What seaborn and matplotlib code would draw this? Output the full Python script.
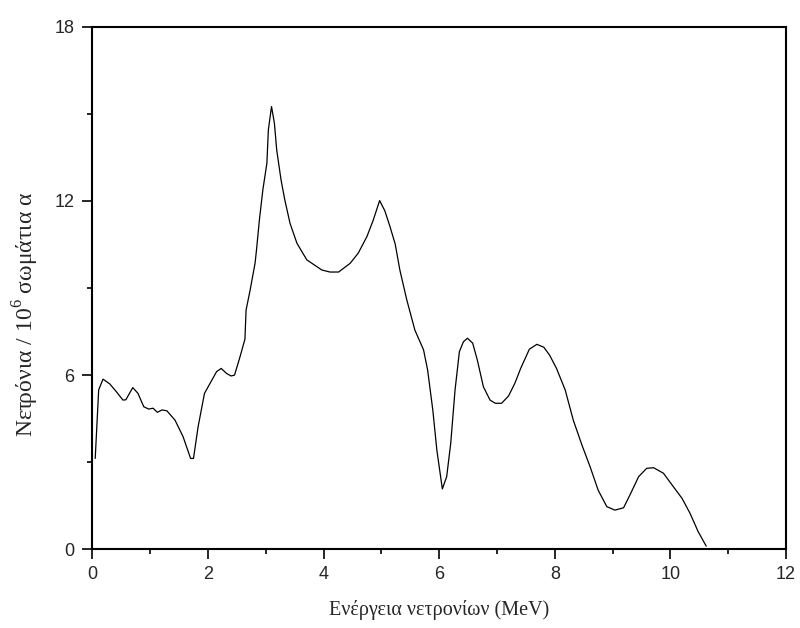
import matplotlib
matplotlib.use("Agg")
import matplotlib.pyplot as plt
import seaborn as sns
import pandas as pd
from matplotlib.ticker import MultipleLocator

energy = [0.05, 0.11, 0.185, 0.30, 0.415, 0.53, 0.58, 0.70, 0.79, 0.89, 0.976, 1.05, 1.125,
          1.206, 1.29, 1.43, 1.57, 1.70, 1.75, 1.83, 1.94, 2.15, 2.23, 2.32, 2.40, 2.46,
          2.555, 2.64, 2.66, 2.73, 2.815, 2.84, 2.89, 2.95, 3.02, 3.045, 3.10, 3.15, 3.19,
          3.265, 3.33, 3.42, 3.54, 3.71, 3.97, 4.11, 4.26, 4.46, 4.60, 4.75, 4.86, 4.97,
          5.06, 5.15, 5.24, 5.32, 5.44, 5.58, 5.73, 5.80, 5.89, 5.96, 6.055, 6.13, 6.20,
          6.275, 6.35, 6.42, 6.49, 6.58, 6.66, 6.765, 6.88, 6.97, 7.08, 7.20, 7.31, 7.41,
          7.56, 7.69, 7.81, 7.91, 8.03, 8.18, 8.32, 8.47, 8.61, 8.75, 8.90, 9.04, 9.19,
          9.30, 9.45, 9.59, 9.71, 9.88, 10.05, 10.20, 10.34, 10.48, 10.62]
neutrons = [3.13, 5.49, 5.86, 5.70, 5.43, 5.14, 5.15, 5.57, 5.37, 4.91, 4.83, 4.86, 4.72,
            4.80, 4.77, 4.45, 3.88, 3.13, 3.13, 4.22, 5.37, 6.12, 6.23, 6.06, 5.97, 6.00,
            6.63, 7.24, 8.24, 8.93, 9.85, 10.31, 11.34, 12.38, 13.30, 14.44, 15.25, 14.67, 13.75,
            12.72, 12.03, 11.23, 10.54, 9.97, 9.62, 9.55, 9.55, 9.85, 10.20, 10.77, 11.34, 12.01,
            11.66, 11.11, 10.51, 9.62, 8.59, 7.55, 6.87, 6.18, 4.80, 3.42, 2.08, 2.50, 3.65,
            5.49, 6.81, 7.15, 7.27, 7.10, 6.52, 5.60, 5.14, 5.03, 5.03, 5.28, 5.72, 6.23,
            6.89, 7.06, 6.96, 6.69, 6.23, 5.49, 4.45, 3.59, 2.85, 2.04, 1.47, 1.35, 1.43,
            1.87, 2.50, 2.79, 2.81, 2.62, 2.16, 1.76, 1.24, 0.61, 0.11]

x_ticks = [0, 2, 4, 6, 8, 10, 12]
y_ticks = [0, 6, 12, 18]
x_label = "Ενέργεια νετρονίων (MeV)"
y_label = "Νετρόνια / 10$^{6}$ σωμάτια α"

df = pd.DataFrame({"E": energy, "N": neutrons})

sns.set_style("ticks")
plt.rcParams["font.family"] = ["Liberation Sans", "DejaVu Sans"]
plt.rcParams["mathtext.fontset"] = "custom"
plt.rcParams["mathtext.rm"] = "Liberation Serif"

fig = plt.figure(figsize=(8.0, 6.28), dpi=100)
ax = fig.add_axes([0.1154, 0.1253, 0.9825 - 0.1154, 0.9575 - 0.1253])

sns.lineplot(data=df, x="E", y="N", ax=ax, color="black", linewidth=0.9,
             estimator=None, sort=False)

ax.set_xlim(0, 12)
ax.set_ylim(0, 18)
ax.set_xticks(x_ticks)
ax.set_yticks(y_ticks)
ax.xaxis.set_minor_locator(MultipleLocator(1))
ax.yaxis.set_minor_locator(MultipleLocator(3))
ax.tick_params(axis="both", which="major", direction="out", length=7, width=1.4,
               labelsize=13, top=False, right=False)
ax.tick_params(axis="both", which="minor", direction="out", length=3.5, width=1.4,
               top=False, right=False)
ax.tick_params(axis="x", which="major", pad=5)
ax.tick_params(axis="y", which="major", pad=6)
for s in ax.spines.values():
    s.set_visible(True)
    s.set_linewidth(1.5)
    s.set_color("black")

ax.set_xlabel(x_label, fontfamily=["Liberation Serif", "DejaVu Serif"], fontsize=14.5, labelpad=12)
ax.set_ylabel(y_label, fontfamily=["Liberation Serif", "DejaVu Serif"], fontsize=17)
ax.yaxis.set_label_coords(-0.074, 0.45)

fig.savefig("out.png", dpi=100, facecolor="white")
